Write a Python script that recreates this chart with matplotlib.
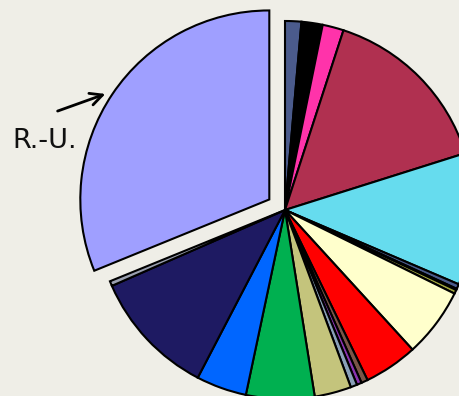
import matplotlib.pyplot as plt

# slice sizes in degrees, clockwise from 12 o'clock
shares = [5.0, 6.5, 6.5, 54.4, 40.6, 1.5, 0.4, 1.2, 21.3, 16.5,
          2.0, 1.5, 2.0, 11.3, 21.0, 15.5, 38.8, 1.5, 112.0]
colors = ['#4b5b8c', '#000000', '#ff33aa', '#b03050', '#66dcee',
          '#4b5b8c', '#000000', '#a4a840', '#ffffcc', '#ff0000',
          '#7a5548', '#8a33b0', '#8aa0b8', '#c4c47c', '#00b050',
          '#0066ff', '#1e1a62', '#9aa0b0', '#9f9fff']
explode = [0] * (len(shares) - 1) + [0.10]
label_text = 'R.-U.'

BG = '#efeee7'

fig = plt.figure(figsize=(4.6, 3.96), dpi=100)
fig.patch.set_facecolor(BG)
ax = fig.add_axes([0, 0, 1, 1])
ax.set_facecolor(BG)

ax.pie(shares, colors=colors, explode=explode, startangle=90,
       counterclock=False, radius=1.0,
       wedgeprops={'edgecolor': 'black', 'linewidth': 1.5})

# pixel -> data helpers (center at 285,210 px, radius 189 px)
R = 189.0
def px(x, y):
    return (x - 285) / R, (210 - y) / R

ax.set_xlim(-285 / R, (460 - 285) / R)
ax.set_ylim(-(396 - 210) / R, 210 / R)
ax.set_aspect('equal')
ax.axis('off')

ax.annotate('', xy=px(108, 93), xytext=px(55, 112),
            arrowprops=dict(arrowstyle='->', lw=2, color='black',
                            mutation_scale=22))
ax.text(*px(45, 141), label_text, fontsize=19.5, ha='center', va='center',
        color='#111111')

fig.savefig('out.png', dpi=100, facecolor=BG)
